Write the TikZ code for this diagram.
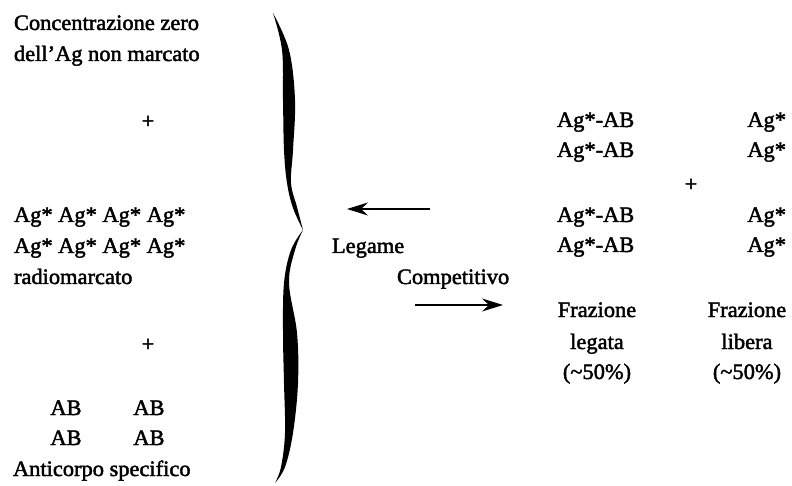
\documentclass[tikz,border=0pt]{standalone}
\usepackage{fontspec}
\setmainfont{Liberation Serif}[FakeBold=2,FakeStretch=1.02]
\usetikzlibrary{arrows.meta}
\begin{document}
\begin{tikzpicture}[x=1bp,y=-1bp,
  txt/.style={inner sep=0pt,outer sep=0pt,font=\fontsize{22bp}{26bp}\selectfont},
  lft/.style={txt,anchor=base west},
  ctr/.style={txt,anchor=base},
  rgt/.style={txt,anchor=base east},
  plus/.style={txt,anchor=center},
  arr/.style={line width=1.1bp,-{Stealth[length=21bp,width=13bp,inset=7bp]}}]
\useasboundingbox (0,0) rectangle (792,486);

% left column: reagents
\node[lft] (zero1) at (14,30) {Concentrazione zero};
\node[lft] (zero2) at (14,61) {dell’Ag non marcato};
\node[plus] (p1) at (148,122) {+};
\node[lft] (ag1) at (14,222) {Ag* Ag* Ag* Ag*};
\node[lft] (ag2) at (14,253) {Ag* Ag* Ag* Ag*};
\node[lft] (radio) at (14,284) {radiomarcato};
\node[plus] (p2) at (148,345) {+};
\node[ctr] (ab1) at (66,415) {AB};
\node[ctr] (ab2) at (149,415) {AB};
\node[ctr] (ab3) at (66,445) {AB};
\node[ctr] (ab4) at (149,445) {AB};
\node[lft] (anti) at (13,476) {Anticorpo specifico};

% large right brace, drawn as two filled arms
\fill plot[smooth,tension=0.6] coordinates {(273,13) (289,50) (295,100) (293,150) (291,183) (297,207) (303,230)}
  -- plot[smooth,tension=0.6] coordinates {(303,230) (293,208) (287,183) (284,150) (283,100) (282,50) (273,13)} -- cycle;
\fill plot[smooth,tension=0.6] coordinates {(303,230) (295,250) (289,283) (297,333) (298,383) (293,433) (285,467) (275,483)}
  -- plot[smooth,tension=0.6] coordinates {(275,483) (281,467) (285,433) (284,383) (283,333) (284,283) (291,250) (303,230)} -- cycle;

% reaction arrows
\coordinate (la) at (430,209);
\coordinate (lb) at (347,209);
\draw[arr] (la) -- (lb);
\node[lft] (leg) at (332,253) {Legame};
\node[lft] (comp) at (397,284) {Competitivo};
\coordinate (ra) at (415,305);
\coordinate (rb) at (503,305);
\draw[arr] (ra) -- (rb);

% right side: products
\node[lft] (b1) at (557,127) {Ag*-AB};
\node[lft] (b2) at (557,157) {Ag*-AB};
\node[lft] (b3) at (557,222) {Ag*-AB};
\node[lft] (b4) at (557,252) {Ag*-AB};
\node[rgt] (f1) at (786,127) {Ag*};
\node[rgt] (f2) at (786,157) {Ag*};
\node[rgt] (f3) at (786,222) {Ag*};
\node[rgt] (f4) at (786,252) {Ag*};
\node[plus] (p3) at (691,185) {+};

\node[ctr] (fl1) at (597,317) {Frazione};
\node[ctr] (fl2) at (597,349) {legata};
\node[ctr] (fl3) at (597,379) {(\textasciitilde 50\%)};
\node[ctr] (ff1) at (747,317) {Frazione};
\node[ctr] (ff2) at (747,349) {libera};
\node[ctr] (ff3) at (747,379) {(\textasciitilde 50\%)};
\end{tikzpicture}
\end{document}
